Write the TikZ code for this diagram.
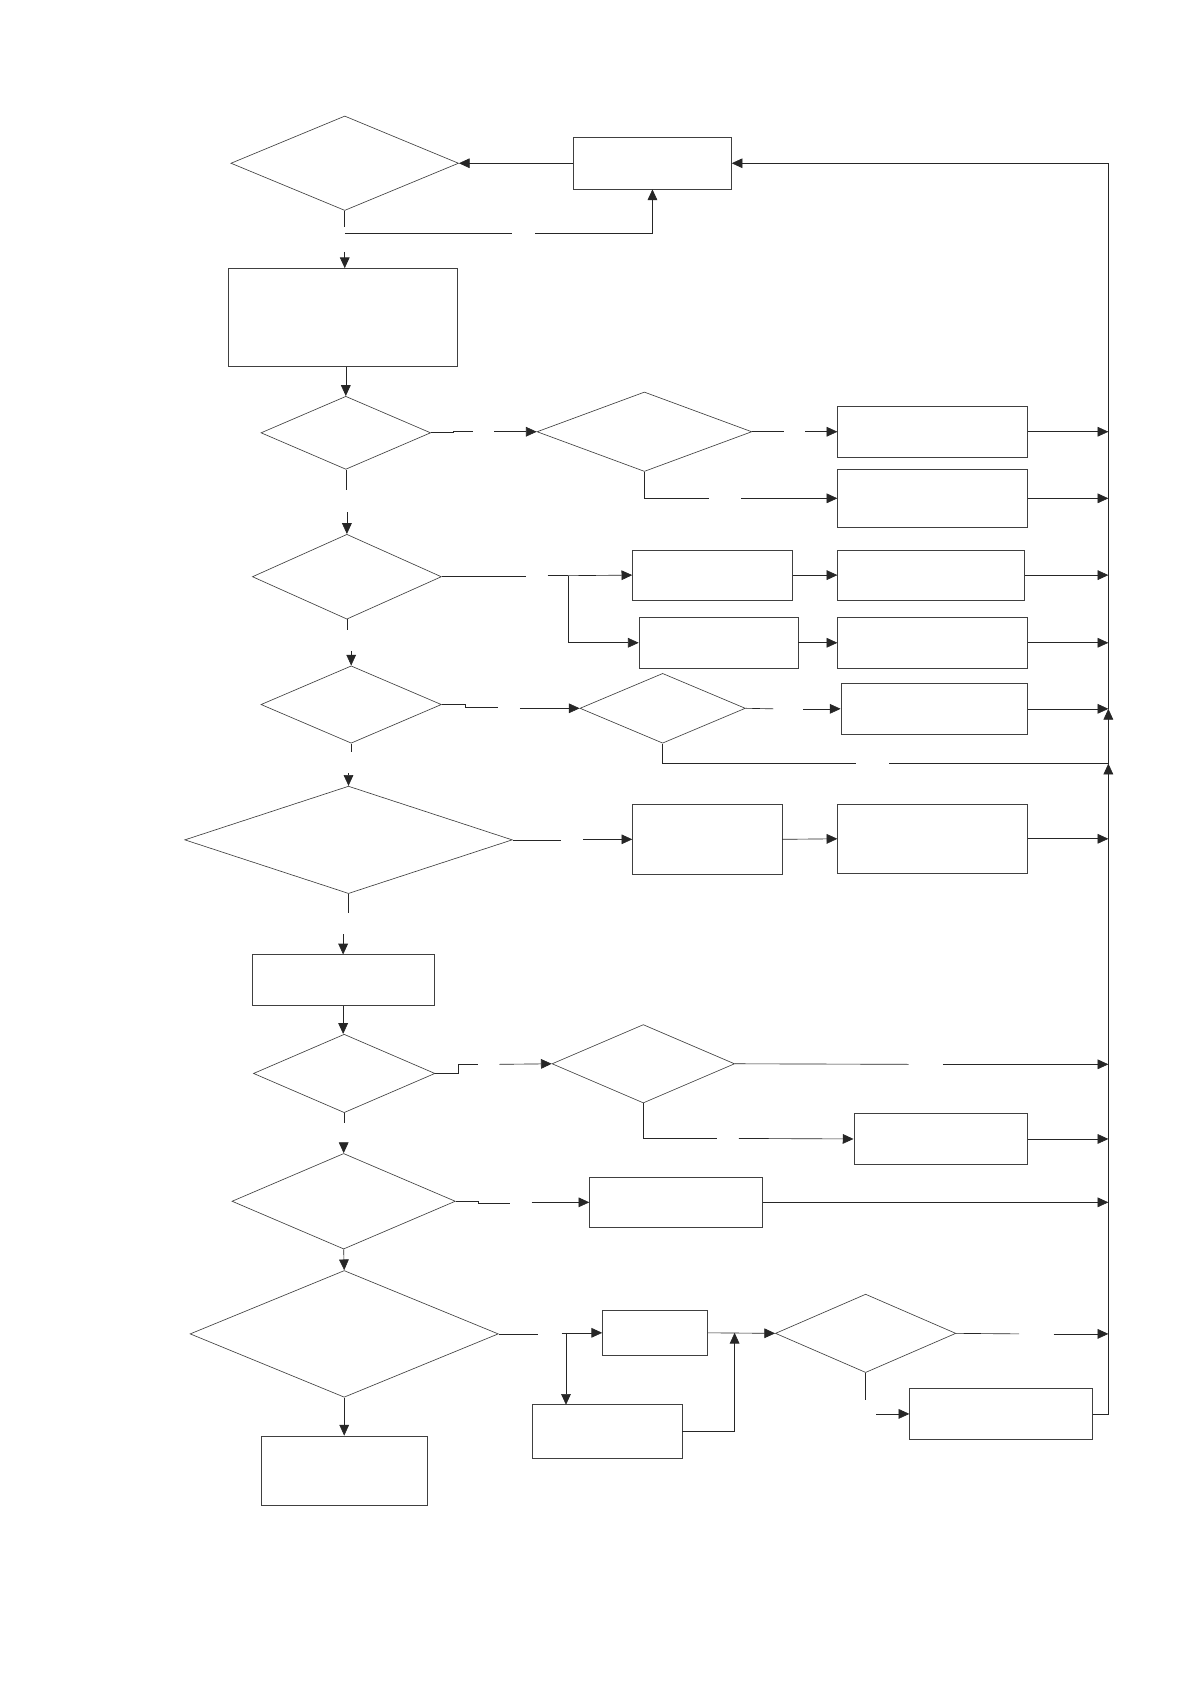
\documentclass[tikz,border=0pt]{standalone}
\usetikzlibrary{shapes.geometric,arrows.meta}
\begin{document}
\begin{tikzpicture}[x=1pt,y=-1pt,
 box/.style={draw=black!75,line width=0.6pt,rectangle,inner sep=0pt},
 dia/.style={draw=black!75,line width=0.6pt,diamond,inner sep=0pt},
 ln/.style={line width=0.6pt,draw=black!85},
 arr/.style={ln,-{Triangle[length=10pt,width=9pt]}}]
\useasboundingbox[fill=white] (0,0) rectangle (1109,1568);
\coordinate (tr) at (1032,0);
% nodes
\node[dia,minimum width=212pt,minimum height=88pt] (d1) at (321,152) {};
\node[box,minimum width=147pt,minimum height=48pt] (r1) at (607.5,152) {};
\node[box,minimum width=213pt,minimum height=91pt] (r2) at (319.5,295.5) {};
\node[dia,minimum width=158pt,minimum height=68pt] (d3) at (322,403) {};
\node[dia,minimum width=200pt,minimum height=74pt] (d4) at (600,402) {};
\node[box,minimum width=177pt,minimum height=48pt] (r3) at (868.5,402) {};
\node[box,minimum width=177pt,minimum height=54pt] (r4) at (868.5,464) {};
\node[dia,minimum width=176pt,minimum height=79pt] (d5) at (323,537) {};
\node[box,minimum width=149pt,minimum height=47pt] (r5) at (663.5,535.5) {};
\node[box,minimum width=174pt,minimum height=47pt] (r7) at (867,535.5) {};
\node[box,minimum width=148pt,minimum height=47pt] (r6) at (669,598.5) {};
\node[box,minimum width=177pt,minimum height=47pt] (r8) at (868.5,598.5) {};
\node[dia,minimum width=168pt,minimum height=72pt] (d6) at (327,656) {};
\node[dia,minimum width=154pt,minimum height=65pt] (d7) at (617,659.5) {};
\node[box,minimum width=174pt,minimum height=48pt] (r9) at (870,660) {};
\node[dia,minimum width=305pt,minimum height=100pt] (d8) at (324.5,782) {};
\node[box,minimum width=139pt,minimum height=65pt] (r10) at (658.5,781.5) {};
\node[box,minimum width=177pt,minimum height=64pt] (r11) at (868.5,781) {};
\node[box,minimum width=169pt,minimum height=47pt] (r12) at (319.5,912.5) {};
\node[dia,minimum width=169pt,minimum height=73pt] (d9) at (320.5,999.5) {};
\node[dia,minimum width=170pt,minimum height=73pt] (d10) at (599,990.5) {};
\node[box,minimum width=162pt,minimum height=47pt] (r13) at (876,1060.5) {};
\node[dia,minimum width=208pt,minimum height=89pt] (d11) at (320,1118.5) {};
\node[box,minimum width=161pt,minimum height=47pt] (r14) at (629.5,1119.5) {};
\node[dia,minimum width=287pt,minimum height=118pt] (d12) at (320.5,1242) {};
\node[box,minimum width=98pt,minimum height=42pt] (r15) at (610,1241) {};
\node[box,minimum width=139pt,minimum height=50pt] (r16) at (565.5,1333) {};
\node[dia,minimum width=168pt,minimum height=73pt] (d13) at (806,1241.5) {};
\node[box,minimum width=170pt,minimum height=47pt] (r17) at (932,1316.5) {};
\node[box,minimum width=155pt,minimum height=65pt] (r18) at (320.5,1369.5) {};
% connectors
\draw[arr] (r1.west) -- (d1.east);
\draw[arr] (1032,660) |- (r1.east);
\draw[ln] (d1.south) -- ++(0,15);
\draw[ln] (321,217.5) -- (477,217.5);
\draw[arr] (498.5,217.5) -| (r1.south);
\draw[arr] (321,234.5) -- (r2.north -| 321,0);
\draw[arr] (r2.south -| d3.north) -- (d3.north);
\draw[ln] (d3.east) -- (422,403) -- (422,402) -- (440,402);
\draw[arr] (460,402) -- (d4.west);
\draw[ln] (d4.east) -- (730,402);
\draw[arr] (750,402) -- (r3.west);
\draw[arr] (r3.east) -- (r3.east -| tr);
\draw[ln] (d4.south) |- (660,464);
\draw[arr] (690,464) -- (r4.west);
\draw[arr] (r4.east) -- (r4.east -| tr);
\draw[ln] (d3.south) -- ++(0,19);
\draw[arr] (323,477) -- (d5.north);
\draw[ln] (d5.east) -- (490,537);
\draw[ln] (510,536) -- (529,536);
\draw[arr] (529,536) -- (r5.west);
\draw[arr] (529,536) |- (r6.west);
\draw[arr] (r5.east) -- (r7.west);
\draw[arr] (r6.east) -- (r8.west);
\draw[arr] (r7.east) -- (r7.east -| tr);
\draw[arr] (r8.east) -- (r8.east -| tr);
\draw[ln] (d5.south) -- ++(0,10);
\draw[arr] (327,606) -- (d6.north);
\draw[ln] (d6.east) -- (433,656) -- (433,659) -- (464,659);
\draw[arr] (484,659.5) -- (d7.west);
\draw[ln] (d7.east) -- (720,660);
\draw[arr] (748,660) -- (r9.west);
\draw[arr] (r9.east) -- (r9.east -| tr);
\draw[ln] (d7.south) |- (797,711);
\draw[arr] (828,711) -| (1032,660);
\draw[ln] (d6.south) -- ++(0,8);
\draw[arr] (324.5,720) -- (d8.north);
\draw[ln] (d8.east) -- (522,782);
\draw[arr] (543,781.5) -- (r10.west);
\draw[arr] (r10.east) -- (r11.west);
\draw[arr] (r11.east) -- (r11.east -| tr);
\draw[ln] (d8.south) -- ++(0,18);
\draw[arr] (319.5,870) -- (r12.north);
\draw[arr] (r12.south) -- (d9.north -| r12.south);
\draw[ln] (d9.east) -- (427,999.5) -- (427,991) -- (445,991);
\draw[arr] (465,991) -- (d10.west);
\draw[ln] (d10.east) -- (846,991);
\draw[arr] (878,991) -- (1032,991);
\draw[ln] (d10.south) |- (668,1060);
\draw[arr] (688,1060) -- (r13.west);
\draw[arr] (r13.east) -- (r13.east -| tr);
\draw[ln] (d9.south) -- ++(0,9);
\draw[arr] (320,1064) -- (d11.north);
\draw[ln] (d11.east) -- (445,1118.5) -- (445,1120) -- (475,1120);
\draw[arr] (495,1119.5) -- (r14.west);
\draw[arr] (r14.east) -- (r14.east -| tr);
\draw[arr] (d11.south) -- (d12.north);
\draw[ln] (d12.east) -- (501,1242);
\draw[arr] (523,1241) -- (r15.west);
\draw[arr] (527,1241) -- (527,1308);
\draw[arr] (r15.east) -- (d13.west);
\draw[arr] (r16.east) -| (684,1241);
\draw[ln] (d13.east) -- (949,1242);
\draw[arr] (981,1242) -- (1032,1242);
\draw[ln] (d13.south) -- (806,1304);
\draw[arr] (816,1316.5) -- (r17.west);
\draw[arr] (r17.east) -| (1032,711);
\draw[arr] (d12.south) -- (r18.north);
\end{tikzpicture}
\end{document}
